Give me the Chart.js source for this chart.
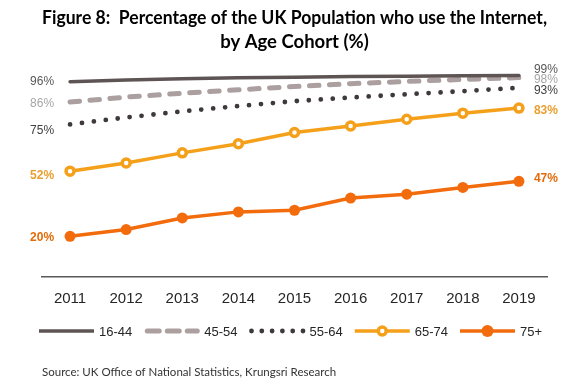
<!DOCTYPE html>
<html>
<head>
<meta charset="utf-8">
<script src="https://cdn.jsdelivr.net/npm/chart.js@4.4.1/dist/chart.umd.min.js"></script>
<style>
  html, body { margin: 0; padding: 0; background: #ffffff; }
  #wrap { width: 566px; height: 388px; position: relative; }
</style>
</head>
<body>
<div id="wrap"><canvas id="c" width="566" height="388"></canvas></div>
<script>
// ---- Data ----
const years = ['2011', '2012', '2013', '2014', '2015', '2016', '2017', '2018', '2019'];
const age16_44 = [96, 96.8, 97.4, 97.9, 98.2, 98.5, 98.7, 98.9, 99];
const age45_54 = [86, 88.4, 90.3, 92, 93.6, 95, 96.1, 97.1, 98];
const age55_64 = [75, 78.4, 81.4, 84, 86.4, 88.2, 89.8, 91.3, 93];
const age65_74 = [52, 56, 61, 65.5, 71, 74.2, 77.5, 80.5, 83];
const age75plus = [20, 23.3, 29, 32, 32.8, 38.8, 40.7, 44, 47];
const seriesNames = ['16-44', '45-54', '55-64', '65-74', '75+'];

const titleLines = ['Figure 8:  Percentage of the UK Population who use the Internet,', 'by Age Cohort (%)'];
const sourceText = 'Source: UK Office of National Statistics, Krungsri Research';

// ---- Styles ----
const colors = ['#5e5454', '#ab9f9f', '#3f3a3a', '#f5a01a', '#f26b0c'];
const labelStyle = [
  { color: '#595959', bold: false, dyL: 0, dyR: -6 },
  { color: '#a6a6a6', bold: false, dyL: 2, dyR: 2 },
  { color: '#404040', bold: false, dyL: 6, dyR: 3 },
  { color: '#e9a030', bold: true, dyL: 5, dyR: 3 },
  { color: '#e36c0a', bold: true, dyL: 1, dyR: -3 }
];

const datasets = [
  { label: seriesNames[0], data: age16_44, borderColor: colors[0], borderWidth: 3.5, pointRadius: 0, borderCapStyle: 'round' },
  { label: seriesNames[1], data: age45_54, borderColor: colors[1], borderWidth: 5, borderDash: [9.5, 10.5], borderCapStyle: 'round', pointRadius: 0 },
  { label: seriesNames[2], data: age55_64, borderColor: colors[2], borderWidth: 4.8, borderDash: [0, 12], borderCapStyle: 'round', pointRadius: 0 },
  { label: seriesNames[3], data: age65_74, borderColor: colors[3], borderWidth: 3.5, pointRadius: 4, pointBorderWidth: 3.5, pointBackgroundColor: '#ffffff', pointBorderColor: colors[3] },
  { label: seriesNames[4], data: age75plus, borderColor: colors[4], borderWidth: 3.5, pointRadius: 5.5, pointBorderWidth: 0, pointBackgroundColor: colors[4], pointBorderColor: colors[4] }
].map(d => Object.assign({ tension: 0, fill: false, clip: false, pointHoverRadius: 0 }, d));

// End labels plugin
const endLabels = {
  id: 'endLabels',
  afterDatasetsDraw(chart) {
    const ctx = chart.ctx;
    ctx.save();
    chart.data.datasets.forEach((ds, i) => {
      const meta = chart.getDatasetMeta(i);
      const st = labelStyle[i];
      ctx.font = (st.bold ? 'bold ' : '') + '12px "Liberation Sans", Arial, sans-serif';
      ctx.fillStyle = st.color;
      ctx.textBaseline = 'middle';
      const first = meta.data[0], last = meta.data[meta.data.length - 1];
      ctx.textAlign = 'right';
      ctx.fillText(Math.round(ds.data[0]) + '%', first.x - 16, first.y + st.dyL);
      ctx.textAlign = 'left';
      ctx.fillText(Math.round(ds.data[ds.data.length - 1]) + '%', last.x + 15, last.y + st.dyR);
    });
    ctx.restore();
  }
};

// Legend + source plugin
const customLegend = {
  id: 'customLegend',
  afterDraw(chart) {
    const ctx = chart.ctx;
    ctx.save();
    const cy = 331;
    let x = 39;
    const sw = 55;
    ctx.font = '13px "Liberation Sans", Arial, sans-serif';
    chart.data.datasets.forEach((ds, i) => {
      ctx.save();
      ctx.strokeStyle = ds.borderColor;
      ctx.lineWidth = ds.borderWidth;
      ctx.lineCap = 'round';
      if (i === 1) { ctx.setLineDash([12, 8]); ctx.lineWidth = 5; }
      if (i === 2) { ctx.setLineDash([0, 10.3]); ctx.lineWidth = 4.8; }
      ctx.beginPath();
      if (i === 1) { ctx.moveTo(x + 3, cy); ctx.lineTo(x + sw - 2, cy); }
      else if (i === 2) { ctx.moveTo(x + 2, cy); ctx.lineTo(x + sw, cy); }
      else { ctx.lineCap = 'butt'; ctx.moveTo(x, cy); ctx.lineTo(x + sw, cy); }
      ctx.stroke();
      ctx.setLineDash([]);
      if (i === 3) {
        ctx.beginPath(); ctx.arc(x + sw / 2, cy, 4, 0, Math.PI * 2);
        ctx.fillStyle = '#fff'; ctx.fill(); ctx.lineWidth = 3.5; ctx.strokeStyle = ds.borderColor; ctx.stroke();
      }
      if (i === 4) {
        ctx.beginPath(); ctx.arc(x + sw / 2, cy, 6, 0, Math.PI * 2);
        ctx.fillStyle = ds.borderColor; ctx.fill();
      }
      ctx.restore();
      ctx.fillStyle = '#262626';
      ctx.textBaseline = 'middle';
      ctx.textAlign = 'left';
      const tx = x + sw + 5;
      ctx.fillText(ds.label, tx, cy + 1);
      x = tx + ctx.measureText(ds.label).width + 12;
    });
    ctx.font = '11.5px Lato, sans-serif';
    ctx.fillStyle = '#333333';
    ctx.textAlign = 'left';
    ctx.textBaseline = 'middle';
    ctx.fillText(sourceText, 42, 372);
    ctx.restore();
  }
};

new Chart(document.getElementById('c'), {
  type: 'line',
  data: { labels: years, datasets: datasets },
  plugins: [endLabels, customLegend],
  options: {
    responsive: false,
    animation: false,
    events: [],
    layout: { padding: { left: 42, right: 19, top: 0, bottom: 67 } },
    plugins: {
      legend: { display: false },
      tooltip: { enabled: false },
      title: {
        display: true,
        text: titleLines,
        color: '#000000',
        font: { family: 'Lato, sans-serif', size: 18.5, weight: 'bold', lineHeight: 24 / 18.5 },
        padding: { top: 6, bottom: 19.5 }
      }
    },
    scales: {
      x: {
        offset: true,
        grid: { display: false, drawTicks: false },
        border: { display: true, color: '#595959', width: 1.5 },
        ticks: { color: '#262626', padding: 13, font: { family: '"Liberation Sans", Arial, sans-serif', size: 15 } }
      },
      y: { display: false, min: 0, max: 100 }
    }
  }
});
</script>
</body>
</html>
